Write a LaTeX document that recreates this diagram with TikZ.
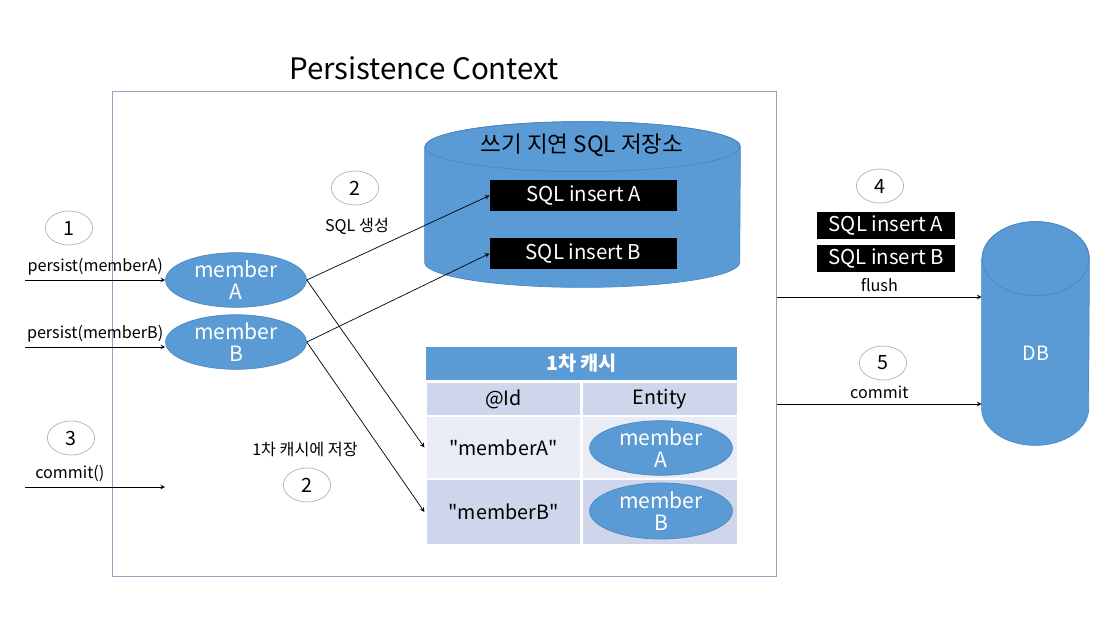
\documentclass[tikz,border=0pt]{standalone}
\usepackage{fontspec}
\setmainfont{Noto Sans CJK KR}
\usetikzlibrary{shapes.geometric, positioning, arrows}
\definecolor{officeblue}{HTML}{5B9BD5}
\definecolor{blueedge}{HTML}{4A86C0}
\definecolor{frameblue}{HTML}{8EA4C2}
\definecolor{bandDark}{HTML}{CFD5EA}
\definecolor{bandLight}{HTML}{E9EBF5}
\tikzset{
    >=stealth, % small filled arrow heads
    every picture/.style={line width=0.5pt}, % thin lines everywhere
}
% drum (cylinder) drawn round an invisible node: name, x radius, y radius
\newcommand{\drawDrum}[3]{%
    \path[fill=officeblue, draw=blueedge] ([yshift=-#3]#1.north west) -- ([yshift=#3]#1.south west)
        arc[start angle=180, end angle=360, x radius=#2, y radius=#3] -- ([yshift=-#3]#1.north east)
        arc[start angle=0, end angle=180, x radius=#2, y radius=#3] -- cycle;
    \draw[blueedge] ([yshift=-#3]#1.north) ellipse[x radius=#2, y radius=#3];
}

\begin{document}
\begin{tikzpicture}[
                        x=0.025cm, y=-0.025cm,
                        styleStep/.style={ellipse, draw=gray!60, fill=white, minimum width=1.18cm, minimum height=0.85cm, inner sep=0pt, font=\fontsize{14}{16}\selectfont},
                        styleLabel/.style={font=\fontsize{11.5}{13}\selectfont},
                        styleMember/.style={ellipse, fill=officeblue, draw=blueedge, text=white, align=center, minimum width=3.52cm, minimum height=1.35cm, inner sep=0pt, font=\fontsize{15}{15.5}\selectfont},
                        styleSql/.style={fill=black, text=white, minimum width=4.68cm, minimum height=0.78cm, inner sep=0pt, font=\fontsize{14.5}{17}\selectfont},
                        styleSqlSmall/.style={styleSql, minimum width=3.45cm, minimum height=0.68cm},
                        styleDrum/.style={rectangle, inner sep=0pt},
                        styleCell/.style={draw=white, line width=1.5pt, fill=#1, minimum width=3.9cm, inner sep=0pt, font=\fontsize{14}{16}\selectfont},
                        node distance=1.5cm,
                    ]
                    \useasboundingbox (0,0) rectangle (1114,620);

                    \node[font=\fontsize{21}{24}\selectfont] (title) at (424,68) {Persistence Context};
                    \node[draw=frameblue, minimum width=16.6cm, minimum height=12.125cm] (pc) at (444,333.5) {};

                    \node[styleDrum, minimum width=7.875cm, minimum height=4.125cm] (store) at (582.5,204.5) {};
                    \drawDrum{store}{3.9375cm}{0.625cm}
                    \node[font=\fontsize{16}{18}\selectfont] (storeTitle) at (582,145) {쓰기 지연 SQL 저장소};
                    \node[styleSql] (sqlA) at (583.5,195.5) {SQL insert A};
                    \node[styleSql, below of=sqlA, node distance=1.45cm] (sqlB) {SQL insert B};

                    \node[styleStep] (s1) at (69,228) {1};
                    \node[styleStep] (s2a) at (355,188) {2};
                    \node[styleLabel] (sqlGen) at (357,226) {SQL 생성};
                    \node[styleStep] (s3) at (71,438) {3};
                    \node[styleLabel] (cacheSave) at (305,449) {1차 캐시에 저장};
                    \node[styleStep] (s2b) at (307,485) {2};

                    \node[styleMember] (memA) at (236,280) {member\\A};
                    \node[styleMember, below of=memA, node distance=1.55cm] (memB) {member\\B};

                    \coordinate (inA) at (25,280);
                    \coordinate (inB) at (25,347);
                    \coordinate (inC) at (25,487);
                    \coordinate (outC) at (165,487);

                    \node[styleCell=officeblue, minimum width=7.825cm, minimum height=0.875cm, text=white, font=\fontsize{14}{16}\selectfont\bfseries] (cacheHead) at (581.5,363.5) {1차 캐시};
                    \node[styleCell=bandDark, minimum height=0.85cm] (idHead) at (503.5,399) {@Id};
                    \node[styleCell=bandDark, minimum height=0.85cm] (entHead) at (660,399) {Entity};
                    \node[styleCell=bandLight, minimum height=1.575cm] (idA) at (503.5,447.5) {\textquotedbl memberA\textquotedbl};
                    \node[styleCell=bandLight, minimum height=1.575cm] (entA) at (660,447.5) {};
                    \node[styleCell=bandDark, minimum height=1.65cm] (idB) at (503.5,512) {\textquotedbl memberB\textquotedbl};
                    \node[styleCell=bandDark, minimum height=1.65cm] (entB) at (660,512) {};
                    \node[styleMember, minimum width=3.57cm] (cacheA) at (661,448) {member\\A};
                    \node[styleMember, minimum width=3.57cm, minimum height=1.4cm] (cacheB) at (661,511) {member\\B};

                    \node[styleStep] (s4) at (880,186) {4};
                    \node[styleSqlSmall] (flushA) at (886,225.5) {SQL insert A};
                    \node[styleSqlSmall, below of=flushA, node distance=0.825cm] (flushB) {SQL insert B};
                    \node[styleStep] (s5) at (883,363) {5};

                    \node[styleDrum, minimum width=2.675cm, minimum height=5.575cm] (db) at (1035.5,333.5) {};
                    \drawDrum{db}{1.3375cm}{0.925cm}
                    \node[text=white, font=\fontsize{14}{16}\selectfont] (dbLabel) at (1036,353) {DB};

                    \coordinate (flushStart) at (777,297);
                    \coordinate (commitStart) at (777,404);

                    \path[->]
                    (inA) edge node[above, styleLabel]{persist(memberA)} (memA)
                    (inB) edge node[above, styleLabel]{persist(memberB)} (inB -| memB.west)
                    (inC) edge node[above, styleLabel, pos=0.32]{commit()} (outC)

                    (memA.east) edge (sqlA.west)
                    (memB.east) edge (sqlB.west)
                    (memA.east) edge (idA.west)
                    (memB.east) edge (idB.west)

                    (flushStart) edge node[above, styleLabel]{flush} (flushStart -| db.west)
                    (commitStart) edge node[above, styleLabel]{commit} (commitStart -| db.west);
                \end{tikzpicture}
\end{document}
